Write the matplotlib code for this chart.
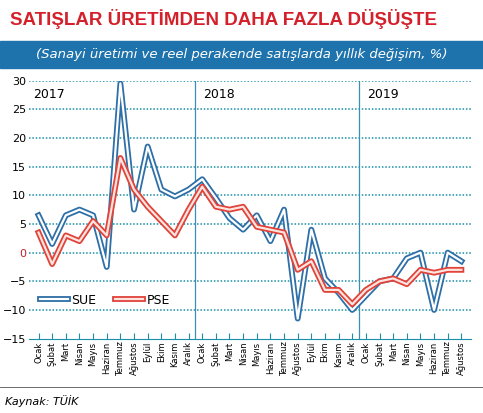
import matplotlib.pyplot as plt
import matplotlib.patheffects as pe

months = ['Ocak', 'Şubat', 'Mart', 'Nisan', 'Mayıs', 'Haziran', 'Temmuz', 'Ağustos',
          'Eylül', 'Ekim', 'Kasım', 'Aralık']
labels = months * 2 + months[:8]
sue = [6.5, 1.5, 6.5, 7.5, 6.5, -2.5, 29.5, 7.5, 18.5, 11, 9.8, 11,
       12.8, 9.5, 6, 4, 6.5, 2, 7.5, -11.5, 4, -4.5, -7, -10,
       -7.5, -5, -4.5, -1, 0, -10, 0, -1.5]
pse = [3.5, -2, 3, 2, 5.5, 3, 16.5, 11, 8, 5.5, 3, 7.5,
       11.5, 8, 7.5, 8, 4.5, 4, 3.5, -3, -1.5, -6.5, -6.5, -9,
       -6.5, -5, -4.5, -5.5, -3, -3.5, -3, -3]
years = ['2017', '2018', '2019']

teal = '#1a8fa8'
fig = plt.figure(figsize=(4.83, 4.13), dpi=100)
fig.text(0.02, 0.955, 'SATIŞLAR ÜRETİMDEN DAHA FAZLA DÜŞÜŞTE', color='#d4202a',
         fontsize=13.5, fontweight='bold', fontfamily='Liberation Sans',
         va='center', ha='left')
fig.patches.append(plt.Rectangle((0.0, 0.835), 1.0, 0.065, transform=fig.transFigure,
                                 color='#1f73ad'))
fig.text(0.5, 0.868, '(Sanayi üretimi ve reel perakende satışlarda yıllık değişim, %)',
         color='white', fontsize=9.5, style='italic', ha='center', va='center')
fig.text(0.01, 0.03, 'Kaynak: TÜİK', fontsize=8, style='italic', va='center')
fig.add_artist(plt.Line2D([0, 1], [0.062, 0.062], color='#555555', lw=0.6))

ax = fig.add_axes([0.06, 0.18, 0.915, 0.625])
x = list(range(len(labels)))
ax.plot(x, sue, color='white', lw=1.6, solid_joinstyle='round', label='SUE',
        path_effects=[pe.Stroke(linewidth=4.2, foreground='#2e6fa8', joinstyle='round'),
                      pe.Normal()], zorder=3)
ax.plot(x, pse, color='#fde4df', lw=1.6, solid_joinstyle='round', label='PSE',
        path_effects=[pe.Stroke(linewidth=4.2, foreground='#e0433a', joinstyle='round'),
                      pe.Normal()], zorder=4)

ax.set_ylim(-15, 30)
ax.set_xlim(-0.7, len(labels) - 0.3)
ax.set_yticks(range(-15, 31, 5))
ax.set_xticks(x)
ax.set_xticklabels(labels, rotation=90, fontsize=6)
for t in ax.get_yticklabels():
    t.set_fontsize(8)
    if t.get_text() == '0':
        t.set_color('#c0202a')
for y in range(-10, 31, 5):
    ax.axhline(y, color=teal, lw=1.1, ls=(0, (1, 1.2)), zorder=1)
for xv in (11.5, 23.5):
    ax.axvline(xv, color='#3b8fb0', lw=0.9, zorder=1)
for xv, yr in zip((-0.4, 12.1, 24.1), years):
    ax.text(xv, 27.5, yr, fontsize=9, va='center')
for s in ('top', 'right', 'left'):
    ax.spines[s].set_visible(False)
ax.spines['bottom'].set_color(teal)
ax.tick_params(axis='y', length=0, pad=2)
ax.tick_params(axis='x', color=teal, length=4, direction='in', pad=2)
ax.legend(loc='lower left', bbox_to_anchor=(0.0, 0.08), frameon=False, ncol=2,
          fontsize=9, handlelength=2.2, columnspacing=1.5, handletextpad=0.3)
fig.savefig('out.png')
